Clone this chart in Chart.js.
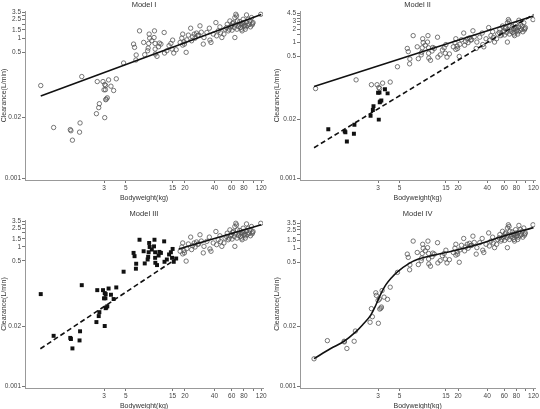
<!DOCTYPE html>
<html>
<head>
<meta charset="utf-8">
<script src="https://cdn.jsdelivr.net/npm/chart.js@4.4.1/dist/chart.umd.min.js"></script>
<style>
html, body { margin: 0; padding: 0; background: #fff; overflow: hidden; }
#wrap { position: relative; width: 540px; height: 409px; overflow: hidden; }
canvas { position: absolute; }
</style>
</head>
<body>
<div id="wrap">
  <canvas id="m1" width="270" height="203" style="left:0;top:0"></canvas>
  <canvas id="m2" width="270" height="203" style="left:270px;top:0"></canvas>
  <canvas id="m3" width="270" height="207" style="left:0;top:204px"></canvas>
  <canvas id="m4" width="270" height="207" style="left:270px;top:204px"></canvas>
</div>
<script>
// observations, low bodyweight (< 5 kg)
var lowWeight = [0.68, 0.92, 1.36, 1.38, 1.43, 1.69, 1.71, 1.78, 2.51, 2.56, 2.65, 2.69, 2.93,
    3.0, 3.05, 3.1, 3.12, 3.05, 3.16, 3.24, 3.12, 3.34, 3.53, 3.76, 4.0, 4.75];
var lowClear = [0.097, 0.0123, 0.0111, 0.0105, 0.0066, 0.0098, 0.0154, 0.151, 0.0243, 0.118, 0.0327, 0.0397, 0.118,
    0.0787, 0.102, 0.079, 0.0483, 0.020, 0.050, 0.053, 0.097, 0.128, 0.094, 0.076, 0.135, 0.294];
// model II subpopulation (1 = filled square)
var lowGroupII = [0, 1, 1, 1, 1, 1, 1, 0, 1, 0, 1, 1, 0, 1, 0, 1, 1, 1, 1, 1, 0, 0, 1, 1, 0, 0];

// observations, bodyweight >= 6 kg
var upWeight = [6.0, 6.14, 6.38, 6.34, 6.9, 7.8, 8.65, 8.75, 8.55, 8.45, 8.35, 9.8, 9.7, 9.95, 9.95, 10.0, 10.4,
    10.8, 11.0, 11.4, 12.3, 12.4, 13.1, 14.4, 14.8, 15.0, 15.4, 16.3,
    17.9, 18.6, 19.0, 19.6, 19.8, 20.6, 20.9, 21.7, 22.9, 23.4, 24.0, 24.9, 26.3, 27.0, 27.6, 28.5, 29.4,
    30.8, 31.3, 35.5, 36.0, 36.9, 38.9,
    41.4, 42.1, 43.7, 45.5, 46.2, 47.6, 50.0, 53.2, 54.0, 56.6, 57.5, 59.8, 61.2, 62.1, 63.7, 64.6, 64.6,
    66.1, 67.2, 68.7, 71.4, 72.6, 73.7, 75.5, 77.2, 78.5, 80.4, 81.6, 83.5, 84.9, 84.9, 88.3, 90.4, 91.8,
    95.4, 97.7, 99, 118.7,
    58.3, 60.5, 65.0, 67.8, 70.4, 75.0, 76.5, 79.7, 82.5, 87.0, 93.2, 96.9, 55.3, 51.3, 33.5, 25.4, 19.0,
    13.8, 9.2, 7.6];
var upClear = [0.746, 0.634, 0.436, 0.341, 1.43, 0.443, 1.22, 1.0, 0.77, 0.613, 0.538, 1.43, 1.03, 0.77, 0.584, 0.457, 0.408,
    0.655, 0.783, 0.746, 1.32, 0.48, 0.538, 0.77, 0.584, 0.907, 0.48, 0.565,
    0.809, 1.0, 1.22, 0.836, 0.746, 0.497, 0.92, 1.16, 1.63, 0.878, 1.07, 1.22, 1.28, 1.14, 1.16, 1.83, 1.34,
    0.746, 1.03, 1.63, 0.907, 0.809, 1.22,
    2.15, 1.12, 1.43, 1.74, 1.30, 1.03, 1.22, 1.68, 1.98, 1.55, 2.33, 1.83, 2.05, 2.15, 1.68, 1.03, 2.75,
    3.23, 2.98, 2.33, 1.98, 2.26, 1.68, 1.55, 2.05, 2.53, 1.83, 1.92, 1.74, 2.22, 3.13, 2.53, 1.98, 2.33,
    2.75, 2.05, 2.15, 3.23,
    1.74, 1.48, 1.92, 1.55, 1.77, 1.98, 1.43, 2.15, 1.55, 1.86, 1.74, 1.92, 1.43, 1.55, 1.32, 1.0, 0.71,
    0.69, 0.88, 0.81];

// model IV panel, low bodyweight observations
var lowWeightIV = [0.656, 0.90, 1.34, 1.35, 1.43, 1.70, 1.75, 2.48, 2.56, 2.62, 2.84, 2.88, 3.0, 3.02,
    3.1, 3.12, 3.2, 3.25, 3.3, 3.46, 3.75, 4.0, 4.75];
var lowClearIV = [0.004, 0.0099, 0.0096, 0.0093, 0.0067, 0.0096, 0.016, 0.0248, 0.049, 0.0327, 0.108, 0.095, 0.074, 0.0236,
    0.079, 0.048, 0.05, 0.053, 0.121, 0.087, 0.078, 0.143, 0.3];

// model predictions
var fitIW = [0.68, 120], fitIC = [0.058, 3.2];
var fitIIaW = [0.656, 120], fitIIaC = [0.108, 3.9];
var fitIIbW = [0.656, 120], fitIIbC = [0.0048, 4.2];
var fitIIIaW = [0.674, 16], fitIIIaC = [0.0065, 0.54];
var fitIIIbW = [17.3, 120], fitIIIbC = [0.9, 3.0];
var curveIVW = [0.656, 0.975, 1.34, 1.74, 2.07, 2.52, 2.84, 3.15, 3.6, 4.15, 4.75, 6.27, 7.94, 11.8, 19, 30.5, 57.4, 120];
var curveIVC = [0.00403, 0.00668, 0.0096, 0.0149, 0.0217, 0.0355, 0.058, 0.095, 0.16, 0.233, 0.308, 0.471, 0.593, 0.721, 0.906, 1.18, 1.8, 2.8];
var splitIII = 16.5;

// axes
var xTicks = [3, 5, 15, 20, 40, 60, 80, 100, 120];
var xLabels = ['3', '5', '15', '20', '40', '60', '80', '', '120'];
var yTicksA = [0.001, 0.02, 0.5, 1, 1.5, 2, 2.5, 3, 3.5];
var yLabelsA = ['0.001', '0.02', '0.5', '1', '1.5', '', '2.5', '', '3.5'];
var yTicksB = [0.001, 0.02, 0.5, 1, 1.5, 2, 2.5, 3, 3.5, 4, 4.5];
var yLabelsB = ['0.001', '0.02', '0.5', '1', '', '2', '', '3', '', '', '4.5'];

var FONT = "'Liberation Sans', Arial, sans-serif";

function pts(ws, cs) {
    return ws.map(function (w, i) { return { x: w, y: cs[i] }; });
}

function circles(data) {
    return { data: data, pointStyle: 'circle', pointRadius: 2.2, pointBorderWidth: 0.8,
        pointBorderColor: '#555', pointBackgroundColor: 'rgba(255,255,255,0)' };
}

function squares(data) {
    return { data: data, pointStyle: 'rect', pointRadius: 2.8, pointBorderWidth: 0,
        pointBorderColor: '#111', pointBackgroundColor: '#111' };
}

function line(data, dashed, smooth) {
    return { data: data, showLine: true, pointRadius: 0, borderColor: '#111', borderWidth: 1.6,
        borderDash: dashed ? [5, 3] : [], fill: false, cubicInterpolationMode: smooth ? 'monotone' : 'default' };
}

function makeChart(id, title, datasets, o) {
    return new Chart(document.getElementById(id).getContext('2d'), {
        type: 'scatter',
        data: { datasets: datasets },
        options: {
            responsive: false,
            animation: false,
            layout: { padding: { left: 0, right: o.padRight, top: 0, bottom: 0 } },
            plugins: {
                legend: { display: false },
                tooltip: { enabled: false },
                title: { display: true, text: title, fullSize: false, color: '#333',
                    font: { family: FONT, size: 7.5, weight: 'normal' }, padding: { top: o.titleTop, bottom: 2 } }
            },
            scales: {
                x: {
                    type: 'logarithmic', min: 0.47, max: 125,
                    afterBuildTicks: function (s) { s.ticks = xTicks.map(function (v) { return { value: v }; }); },
                    afterFit: function (s) { s.height = o.xHeight; },
                    ticks: { autoSkip: false, maxRotation: 0, padding: 1, color: '#444', font: { family: FONT, size: 6.5 },
                        callback: function (v, i) { return xLabels[i]; } },
                    grid: { display: true, drawOnChartArea: false, drawTicks: true, tickLength: 3, color: '#777' },
                    border: { display: true, color: '#999' },
                    title: { display: true, text: 'Bodyweight(kg)', color: '#333', font: { family: FONT, size: 7 },
                        padding: { top: 0, bottom: 1 } }
                },
                y: {
                    type: 'logarithmic', min: 0.00093, max: o.yMax,
                    afterBuildTicks: function (s) { s.ticks = o.yTicks.map(function (v) { return { value: v }; }); },
                    afterFit: function (s) { s.width = o.yWidth; },
                    ticks: { autoSkip: false, padding: 1, color: '#444', font: { family: FONT, size: 6.5 },
                        callback: function (v, i) { return o.yLabels[i]; } },
                    grid: { display: true, drawOnChartArea: false, drawTicks: true, tickLength: 3, color: '#777' },
                    border: { display: true, color: '#999' },
                    title: { display: true, text: 'Clearance(L/min)', color: '#333', font: { family: FONT, size: 7 },
                        padding: { top: o.yTitlePad, bottom: 0 } }
                }
            }
        }
    });
}

var allW = lowWeight.concat(upWeight);
var allC = lowClear.concat(upClear);

// Model I
makeChart('m1', 'Model I', [
    line(pts(fitIW, fitIC), false),
    circles(pts(allW, allC))
], { padRight: 7, titleTop: 0, xHeight: 23, yMax: 3.8, yWidth: 25, yTicks: yTicksA, yLabels: yLabelsA, yTitlePad: 0 });

// Model II
var sqII = [], ocII = [];
lowWeight.forEach(function (w, i) {
    (lowGroupII[i] ? sqII : ocII).push({ x: w, y: lowClear[i] });
});
makeChart('m2', 'Model II', [
    line(pts(fitIIaW, fitIIaC), false),
    line(pts(fitIIbW, fitIIbC), true),
    squares(sqII),
    circles(ocII.concat(pts(upWeight, upClear)))
], { padRight: 3, titleTop: 0, xHeight: 23, yMax: 5.0, yWidth: 30, yTicks: yTicksB, yLabels: yLabelsB, yTitlePad: 3 });

// Model III
var sqIII = [], ocIII = [];
allW.forEach(function (w, i) {
    (w < splitIII ? sqIII : ocIII).push({ x: w, y: allC[i] });
});
makeChart('m3', 'Model III', [
    line(pts(fitIIIaW, fitIIIaC), true),
    line(pts(fitIIIbW, fitIIIbC), false),
    squares(sqIII),
    circles(ocIII)
], { padRight: 7, titleTop: 5, xHeight: 23, yMax: 3.8, yWidth: 25, yTicks: yTicksA, yLabels: yLabelsA, yTitlePad: 0 });

// Model IV
makeChart('m4', 'Model IV', [
    line(pts(curveIVW, curveIVC), false, true),
    circles(pts(lowWeightIV.concat(upWeight), lowClearIV.concat(upClear)))
], { padRight: 3, titleTop: 5, xHeight: 23, yMax: 4.1, yWidth: 30, yTicks: yTicksA, yLabels: yLabelsA, yTitlePad: 3 });
</script>
</body>
</html>
